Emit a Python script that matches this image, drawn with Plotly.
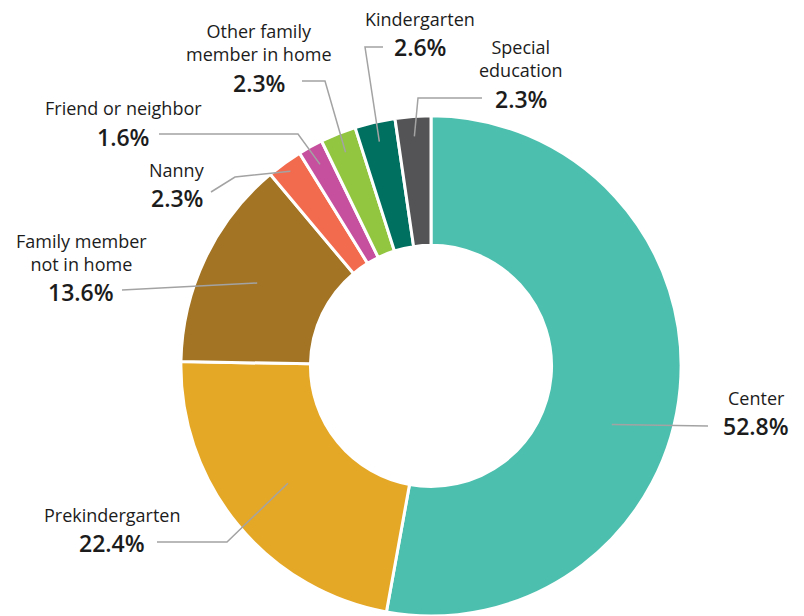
import math
import plotly.graph_objects as go

# ---- data ----
categories = ["Center", "Prekindergarten", "Family member not in home", "Nanny",
              "Friend or neighbor", "Other family member in home", "Kindergarten",
              "Special education"]
shares = [52.8, 22.4, 13.6, 2.3, 1.6, 2.3, 2.6, 2.3]
label_text = ["Center", "Prekindergarten", "Family member<br>not in home", "Nanny",
              "Friend or neighbor", "Other family<br>member in home", "Kindergarten",
              "Special<br>education"]
colors = ["#4DBFAE", "#E5A726", "#A27424", "#F26B4E", "#C64F9E", "#92C640",
          "#007060", "#545456"]

# ---- layout (pixels) ----
W, H = 804, 616
dom_y = [0.0, 0.812]
HOLE = 0.482
CX_PX = 431
_side = (dom_y[1] - dom_y[0]) * H
dom_x = [(CX_PX - _side / 2) / W, (CX_PX + _side / 2) / W]

# per-label: block centre x, pct line centre y, leader path after start, start radius frac, angle nudge
label_layout = [
    dict(x=756, pct_y=426, path=[(708, 426)], rf=0.76, da=12.8),
    dict(x=112, pct_y=543, path=[(227, 542), (157, 542)], rf=0.74, da=0),
    dict(x=81, pct_y=292, path=[(122, 290)], rf=0.77, da=0),
    dict(x=177, pct_y=198, path=[(235, 177), (211, 192)], rf=0.96, da=0),
    dict(x=123, pct_y=137, path=[(298, 134), (159, 134)], rf=0.92, da=0),
    dict(x=259, pct_y=83, path=[(325, 81), (302, 81)], rf=0.92, da=0),
    dict(x=420, pct_y=47, path=[(365, 47), (383, 47)], rf=0.92, da=0),
    dict(x=521, pct_y=99, path=[(418, 98), (482, 98)], rf=0.92, da=0),
]

def px2paper(x, y):
    return x / W, 1 - y / H

cx = (dom_x[0] + dom_x[1]) / 2 * W
cy = H - (dom_y[0] + dom_y[1]) / 2 * H
R = min((dom_x[1] - dom_x[0]) * W, (dom_y[1] - dom_y[0]) * H) / 2

fig = go.Figure(go.Pie(
    labels=categories, values=shares, hole=HOLE, sort=False, direction="clockwise",
    rotation=0, marker=dict(colors=colors, line=dict(color="white", width=3)),
    textinfo="none", hoverinfo="label+percent", showlegend=False,
    domain=dict(x=dom_x, y=dom_y),
))

total = sum(shares)
cum = 0.0
shapes = []
annotations = []
TXT = "#1c1c1c"
NAME_SIZE = 18
PCT_SIZE = 23
for i, v in enumerate(shares):
    mid = (cum + v / 2) / total * 360.0
    cum += v
    lay = label_layout[i]
    ang = math.radians(mid + lay["da"])
    r = R * lay["rf"]
    sx, sy = cx + r * math.sin(ang), cy - r * math.cos(ang)
    pts = [(sx, sy)] + lay["path"]
    path = ""
    for j, (x, y) in enumerate(pts):
        px, py = px2paper(x, y)
        path += ("M" if j == 0 else " L") + f" {px:.5f} {py:.5f}"
    shapes.append(dict(type="path", path=path, xref="paper", yref="paper",
                       line=dict(color="#A3A3A3", width=1.5)))
    # percentage
    qx, qy = px2paper(lay["x"], lay["pct_y"])
    annotations.append(dict(x=qx, y=qy, xref="paper", yref="paper", text=f"{v:.1f}%",
                            showarrow=False, xanchor="center", yanchor="middle", borderpad=0,
                            font=dict(family="Open Sans", size=PCT_SIZE, color=TXT, weight=600)))
    # category name, sitting just above the percentage
    nx, ny = px2paper(lay["x"], lay["pct_y"] - 15.5)
    annotations.append(dict(x=nx, y=ny, xref="paper", yref="paper", text=label_text[i],
                            showarrow=False, xanchor="center", yanchor="bottom", align="center",
                            borderpad=0,
                            font=dict(family="Open Sans", size=NAME_SIZE, color=TXT)))

fig.update_layout(
    width=W, height=H, margin=dict(l=0, r=0, t=0, b=0),
    paper_bgcolor="white", plot_bgcolor="white",
    shapes=shapes, annotations=annotations,
)
fig.write_html("out.html")
